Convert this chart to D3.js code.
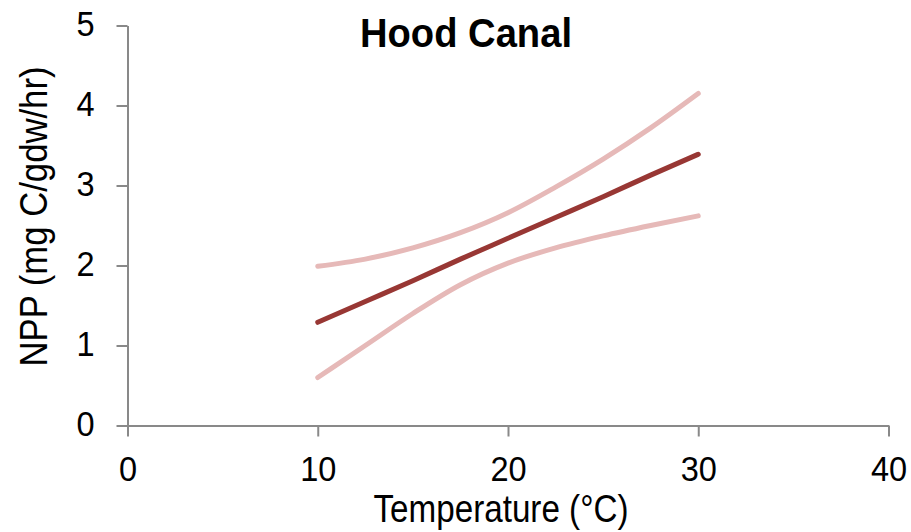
<!DOCTYPE html>
<html>
<head>
<meta charset="utf-8">
<script src="https://cdn.jsdelivr.net/npm/d3@7"></script>
<style>
  html, body { margin: 0; padding: 0; background: #fff; }
  svg text { font-family: "Liberation Sans", Arial, sans-serif; fill: #000; }
</style>
</head>
<body>
<svg id="chart" width="911" height="532"></svg>
<script>
// Temperature (°C) at which the fitted curves are sampled
const temperature = [10, 12.5, 15, 17.5, 20, 22.5, 25, 27.5, 30];
// Fitted net primary production and its confidence bounds
const nppFit   = [1.29, 1.55, 1.81, 2.08, 2.34, 2.60, 2.86, 3.13, 3.39];
const nppUpper = [1.99, 2.08, 2.22, 2.41, 2.66, 2.98, 3.33, 3.72, 4.15];
const nppLower = [0.60, 1.00, 1.40, 1.76, 2.03, 2.22, 2.37, 2.50, 2.62];
const xTicks = [0, 10, 20, 30, 40];
const yTicks = [0, 1, 2, 3, 4, 5];

const svg = d3.select("#chart");
const x = d3.scaleLinear().domain([0, 40]).range([127.5, 888.5]);
const y = d3.scaleLinear().domain([0, 5]).range([425.5, 25.5]);

const axisColor = "#898989";
const tickFont = 35;
const squeeze = 0.93;   // horizontal condensing of the label glyphs

const xAxis = svg.append("g")
  .attr("transform", `translate(0,${y(0)})`)
  .call(d3.axisBottom(x).tickValues(xTicks).tickFormat(d3.format("d"))
    .tickSize(11).tickSizeOuter(0).tickPadding(20));
const yAxis = svg.append("g")
  .attr("transform", `translate(${x(0)},0)`)
  .call(d3.axisLeft(y).tickValues(yTicks).tickFormat(d3.format("d"))
    .tickSize(11).tickSizeOuter(0).tickPadding(22));

[xAxis, yAxis].forEach(g => {
  g.attr("font-family", null).attr("font-size", null);
  g.selectAll("path.domain").attr("stroke", axisColor).attr("stroke-width", 2);
  g.selectAll(".tick line").attr("stroke", axisColor).attr("stroke-width", 2);
  g.selectAll(".tick text").attr("font-size", tickFont).attr("fill", "#000");
});
xAxis.selectAll(".tick text")
  .attr("dy", "0.71em")
  .attr("transform", `scale(${squeeze},1)`);
yAxis.selectAll(".tick text")
  .attr("dy", "0.28em")
  .attr("x", -33 / squeeze)
  .attr("transform", `scale(${squeeze},1)`);

const line = d3.line()
  .x((d, i) => x(temperature[i]))
  .y(d => y(d))
  .curve(d3.curveMonotoneX);

[nppUpper, nppLower].forEach(vals => {
  svg.append("path")
    .datum(vals)
    .attr("d", line)
    .attr("fill", "none")
    .attr("stroke", "#e6b9b8")
    .attr("stroke-width", 5)
    .attr("stroke-linecap", "round");
});

svg.append("path")
  .datum(nppFit)
  .attr("d", line)
  .attr("fill", "none")
  .attr("stroke", "#983734")
  .attr("stroke-width", 5)
  .attr("stroke-linecap", "round");

// Title
svg.append("text")
  .attr("x", 466).attr("y", 47)
  .attr("text-anchor", "middle")
  .attr("font-size", 41).attr("font-weight", "bold")
  .attr("textLength", 212).attr("lengthAdjust", "spacingAndGlyphs")
  .text("Hood Canal");

// Axis titles
svg.append("text")
  .attr("x", 501).attr("y", 522)
  .attr("text-anchor", "middle")
  .attr("font-size", 39)
  .attr("textLength", 255).attr("lengthAdjust", "spacingAndGlyphs")
  .text("Temperature (°C)");

svg.append("text")
  .attr("transform", "translate(47,216.5) rotate(-90)")
  .attr("text-anchor", "middle")
  .attr("font-size", 38)
  .attr("textLength", 300).attr("lengthAdjust", "spacingAndGlyphs")
  .text("NPP (mg C/gdw/hr)");
</script>
</body>
</html>
